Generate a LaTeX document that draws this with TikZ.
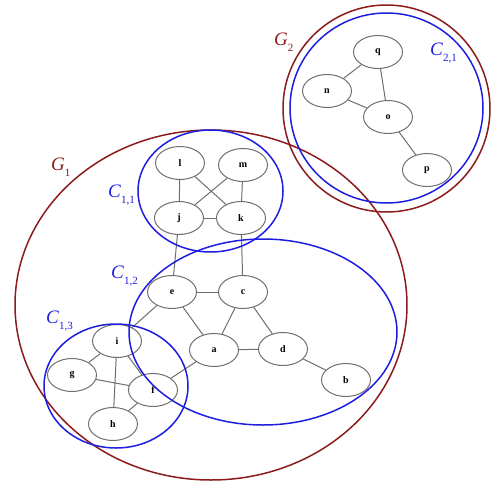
\documentclass[tikz,border=0pt]{standalone}
\usepackage{fontspec}
\setmainfont{Liberation Serif}
\usetikzlibrary{shapes.geometric}
\definecolor{gred}{RGB}{140,28,28}
\definecolor{cblue}{RGB}{30,30,225}
\definecolor{ngray}{RGB}{110,110,110}
\newcommand{\lsub}[1]{\raisebox{-0.75ex}{\fontsize{11}{13}\selectfont #1}}
\tikzset{
  vtx/.style={ellipse, draw=ngray, line width=1pt, minimum width=49pt, minimum height=33pt, inner sep=0pt, font=\bfseries\fontsize{10}{12}\selectfont},
  edg/.style={draw=ngray, line width=1pt},
  gout/.style={draw=gred, line width=1.5pt},
  cout/.style={draw=cblue, line width=1.5pt},
  glab/.style={text=gred, inner sep=0pt, font=\fontsize{19}{22}\selectfont},
  clab/.style={text=cblue, inner sep=0pt, font=\fontsize{19}{22}\selectfont}
}
\begin{document}
\begin{tikzpicture}[x=1pt,y=-1pt]
\useasboundingbox (0,0) rectangle (491,483);
% nodes
\node[vtx] (l) at (180,163) {l};
\node[vtx] (m) at (243,165) {m};
\node[vtx] (j) at (179,218) {j};
\node[vtx] (k) at (241,218) {k};
\node[vtx] (e) at (172,292) {e};
\node[vtx] (c) at (243,292) {c};
\node[vtx] (a) at (214,350) {a};
\node[vtx] (d) at (283,349) {d};
\node[vtx] (b) at (346,380) {b};
\node[vtx] (i) at (117,341) {i};
\node[vtx] (g) at (72,375) {g};
\node[vtx] (f) at (153,390) {f};
\node[vtx] (h) at (113,424) {h};
\node[vtx] (q) at (378,52) {q};
\node[vtx] (n) at (327,91) {n};
\node[vtx] (o) at (388,117) {o};
\node[vtx] (p) at (427,170) {p};
% edges
\draw[edg] (l) -- (j);
\draw[edg] (l) -- (k);
\draw[edg] (m) -- (j);
\draw[edg] (m) -- (k);
\draw[edg] (j) -- (k);
\draw[edg] (j) -- (e);
\draw[edg] (k) -- (c);
\draw[edg] (e) -- (c);
\draw[edg] (e) -- (a);
\draw[edg] (c) -- (a);
\draw[edg] (c) -- (d);
\draw[edg] (a) -- (d);
\draw[edg] (d) -- (b);
\draw[edg] (e) -- (i);
\draw[edg] (a) -- (f);
\draw[edg] (i) -- (g);
\draw[edg] (i) -- (h);
\draw[edg] (i) -- (f);
\draw[edg] (g) -- (f);
\draw[edg] (h) -- (f);
\draw[edg] (n) -- (q);
\draw[edg] (q) -- (o);
\draw[edg] (n) -- (o);
\draw[edg] (o) -- (p);
% outlines
\draw[gout] (211,305) ellipse [x radius=196, y radius=175];
\draw[gout] (386.5,108.5) ellipse [x radius=103.5, y radius=103.5];
\draw[cout] (386.5,108) ellipse [x radius=96.5, y radius=95];
\draw[cout] (210.5,191) ellipse [x radius=72.5, y radius=61];
\draw[cout] (263,332) ellipse [x radius=134, y radius=93];
\draw[cout] (116,386) ellipse [x radius=72, y radius=62];
% labels
\node[glab, anchor=base west] (G1) at (51,170) {\textit{G}\lsub{1}};
\node[glab, anchor=base west] (G2) at (274,45) {\textit{G}\lsub{2}};
\node[clab, anchor=base west] (C21) at (430,55) {\textit{C}\lsub{2,1}};
\node[clab, anchor=base west] (C11) at (108,197) {\textit{C}\lsub{1,1}};
\node[clab, anchor=base west] (C12) at (111,278) {\textit{C}\lsub{1,2}};
\node[clab, anchor=base west] (C13) at (46,323) {\textit{C}\lsub{1,3}};
\end{tikzpicture}
\end{document}
